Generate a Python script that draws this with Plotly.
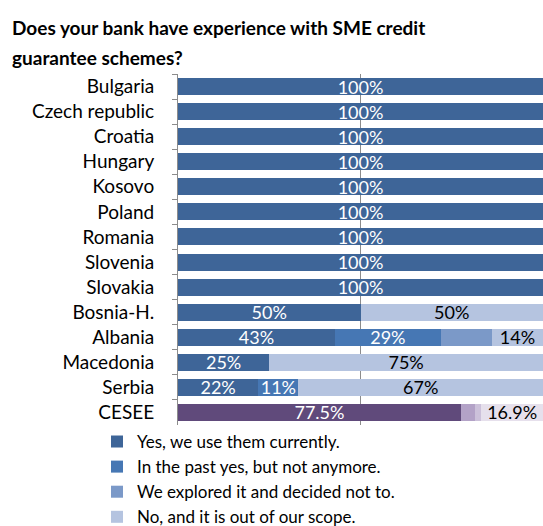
import plotly.graph_objects as go

# Survey answers by country (share of banks, %)
countries = ["Bulgaria", "Czech republic", "Croatia", "Hungary", "Kosovo", "Poland",
             "Romania", "Slovenia", "Slovakia", "Bosnia-H.", "Albania", "Macedonia", "Serbia"]
yes_now = [100, 100, 100, 100, 100, 100, 100, 100, 100, 50, 43, 25, 22]
past_only = [0, 0, 0, 0, 0, 0, 0, 0, 0, 0, 29, 0, 11]
explored_not = [0, 0, 0, 0, 0, 0, 0, 0, 0, 0, 14, 0, 0]
out_of_scope = [0, 0, 0, 0, 0, 0, 0, 0, 0, 50, 14, 75, 67]

# Regional aggregate
region = ["CESEE"]
region_values = [77.5, 4.0, 1.6, 16.9]

series_names = ["Yes, we use them currently.", "In the past yes, but not anymore.",
                "We explored it and decided not to.", "No, and it is out of our scope."]

blue = ["#3E6598", "#4677B4", "#7B99C8", "#B5C4E0"]
purple = ["#604A7B", "#B3A2C7", "#CCC1DA", "#E6E0EC"]
text_colors = ["white", "white", "white", "black"]
show_label = [True, True, False, True]
region_show = [True, False, False, True]

FONT = "Lato"
W, H = 543, 526
ML, MR, MT, MB = 178, 0, 74, 101
PLOT_W = W - ML - MR
PLOT_H = H - MT - MB


def pct(v, decimals=0):
    return f"{v:.{decimals}f}%" if v else ""


def px_to_paper_y(ypx):
    return (H - MB - ypx) / PLOT_H


fig = go.Figure()
country_series = [yes_now, past_only, explored_not, out_of_scope]
for i, vals in enumerate(country_series):
    fig.add_trace(go.Bar(
        y=countries, x=vals, orientation="h", name=series_names[i],
        marker=dict(color=blue[i], line=dict(width=0)),
        text=[pct(v) if show_label[i] else "" for v in vals],
        textposition="inside", insidetextanchor="middle", textangle=0,
        textfont=dict(color=text_colors[i], size=18, family=FONT),
        constraintext="none", hoverinfo="x+y",
    ))
for i, v in enumerate(region_values):
    fig.add_trace(go.Bar(
        y=region, x=[v], orientation="h", name=series_names[i], showlegend=False,
        marker=dict(color=purple[i], line=dict(width=0)),
        text=[pct(v, 1) if region_show[i] else ""],
        textposition="inside", insidetextanchor="middle", textangle=0,
        textfont=dict(color=text_colors[i], size=18, family=FONT),
        constraintext="none", hoverinfo="x+y",
    ))

fig.update_layout(
    width=W, height=H,
    margin=dict(l=ML, r=MR, t=MT, b=MB, autoexpand=False),
    barmode="stack", bargap=0.32,
    plot_bgcolor="white", paper_bgcolor="white",
    font=dict(family=FONT, size=16, color="black"),
    showlegend=True,
    legend=dict(
        orientation="v", traceorder="normal",
        xref="container", x=97 / W, xanchor="left",
        yref="container", y=0.194, yanchor="top",
        font=dict(size=17, family=FONT), bgcolor="rgba(0,0,0,0)",
        itemwidth=30,
    ),
    annotations=[
        dict(text="<b>Does your bank have experience with SME credit</b>",
             xref="paper", yref="paper", x=-(ML - 10) / PLOT_W, y=px_to_paper_y(27),
             xanchor="left", yanchor="middle", showarrow=False,
             font=dict(size=19, family=FONT)),
        dict(text="<b>guarantee schemes?</b>",
             xref="paper", yref="paper", x=-(ML - 10) / PLOT_W, y=px_to_paper_y(57),
             xanchor="left", yanchor="middle", showarrow=False,
             font=dict(size=19, family=FONT)),
    ],
)
fig.update_xaxes(range=[0, 100], tickvals=[50], showticklabels=False,
                 showgrid=True, gridcolor="#8C8C8C", gridwidth=1, zeroline=False,
                 showline=False, fixedrange=True, automargin=False)
fig.update_yaxes(categoryorder="array", categoryarray=countries + region,
                 autorange="reversed", showline=True, linecolor="#8C8C8C", linewidth=1,
                 ticks="outside", tickson="boundaries", ticklen=5, tickcolor="#8C8C8C",
                 ticklabelstandoff=19, tickfont=dict(size=19, family=FONT),
                 showgrid=False, fixedrange=True, automargin=False)

fig.write_html("out.html")
